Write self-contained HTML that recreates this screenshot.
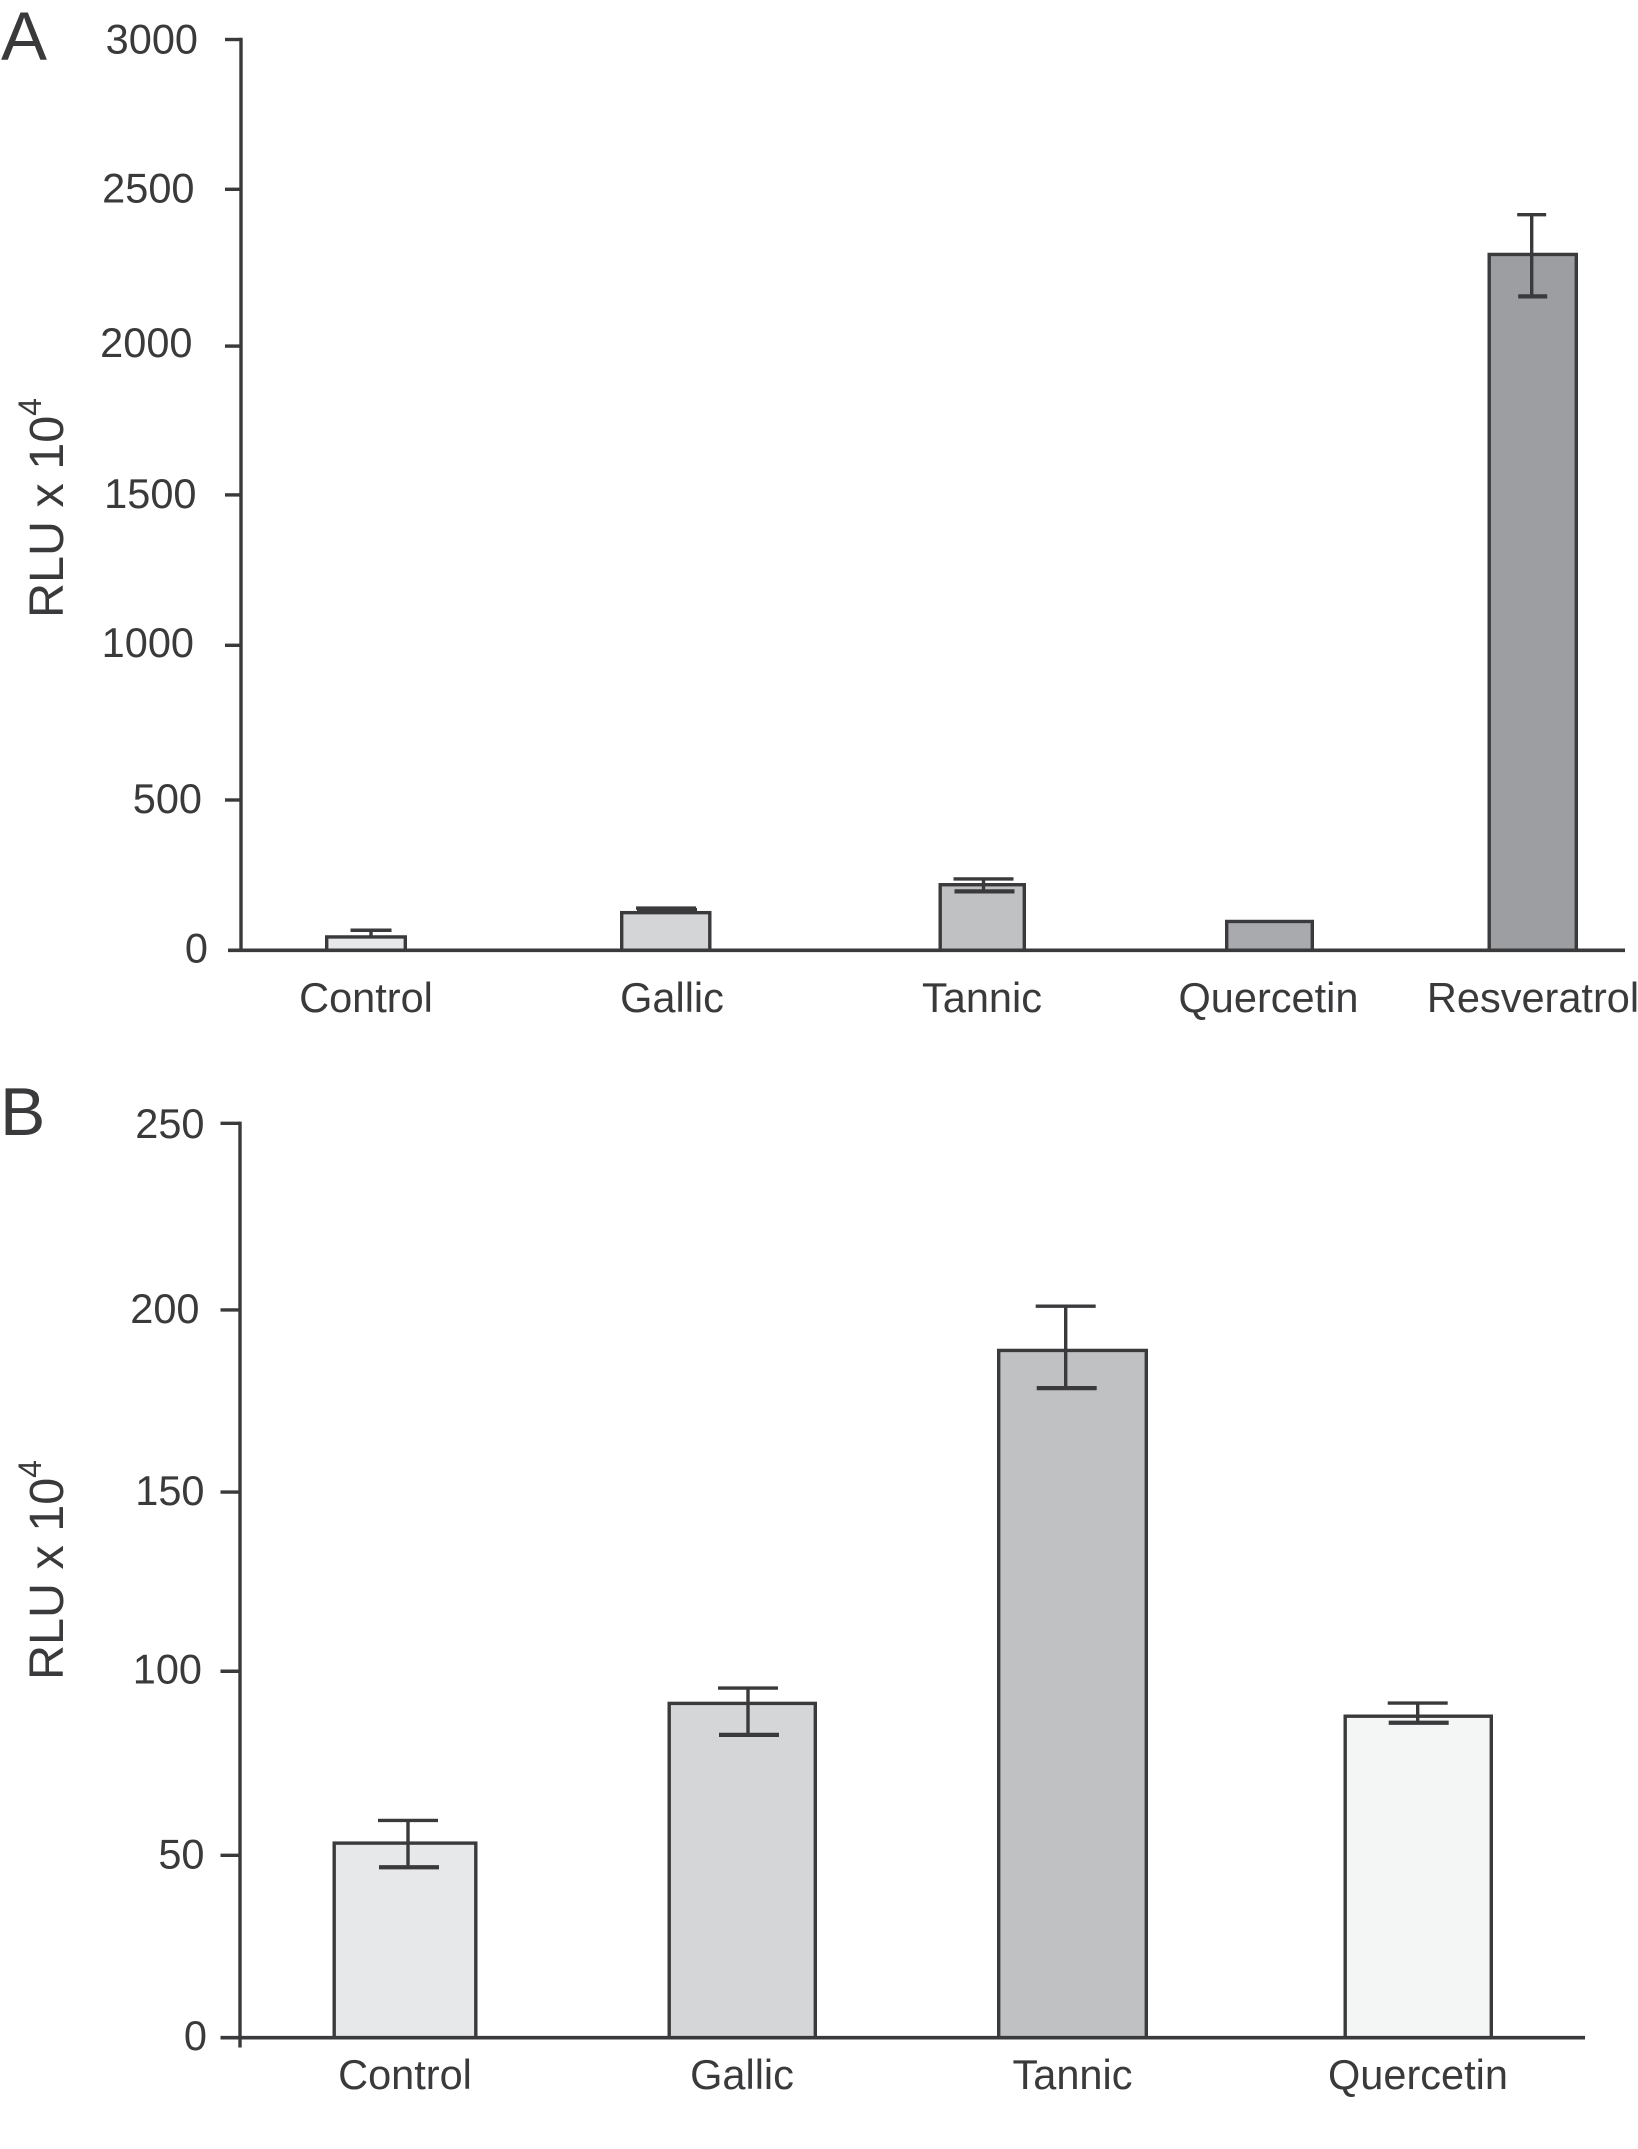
<!DOCTYPE html>
<html lang="en">
<head>
<meta charset="utf-8">
<title>RLU by compound</title>
<style>
html,body{margin:0;padding:0;background:#fff;}
svg{display:block;}
text{font-family:"Liberation Sans",Arial,sans-serif;fill:#3a3a3c;}
</style>
</head>
<body>
<svg id="figure" xmlns="http://www.w3.org/2000/svg" width="1638" height="2149" viewBox="0 0 1638 2149">
  <rect width="1638" height="2149" fill="#fff"/>
  <text x="1" y="60" font-size="69">A</text>
  <text x="0" y="1135" font-size="68">B</text>
  <text transform="translate(63,618) rotate(-90)" font-size="48.5">RLU x 10<tspan font-size="32" dy="-22">4</tspan></text>
  <text transform="translate(63,1680) rotate(-90)" font-size="48.5">RLU x 10<tspan font-size="32" dy="-22">4</tspan></text>
  <g id="chart-a"></g>
  <g id="chart-b"></g>
</svg>
<script>
const categoriesA = ['Control', 'Gallic', 'Tannic', 'Quercetin', 'Resveratrol'];
const valuesA = [44, 124, 216, 95, 2292];
const errHighA = [66, 139, 235, null, 2423];
const errLowA = [null, 133, 194, null, 2154];
const tickLabelsA = [0, 500, 1000, 1500, 2000, 2500, 3000];

const categoriesB = ['Control', 'Gallic', 'Tannic', 'Quercetin'];
const valuesB = [53.2, 91.4, 187.9, 87.9];
const errHighB = [59.4, 95.6, 200, 91.5];
const errLowB = [46.6, 82.8, 177.6, 86.1];
const tickLabelsB = [0, 50, 100, 150, 200, 250];

const INK = '#3a3a3c';
const SVGNS = 'http://www.w3.org/2000/svg';

function make(tag, parent) {
  const el = document.createElementNS(SVGNS, tag);
  parent.appendChild(el);
  return el;
}
function line(el, x1, y1, x2, y2, w) {
  el.setAttribute('x1', x1);
  el.setAttribute('y1', y1);
  el.setAttribute('x2', x2);
  el.setAttribute('y2', y2);
  el.setAttribute('stroke', INK);
  el.setAttribute('stroke-width', w);
}

/* Ordinal layouts: the published figure spaces its categories unevenly. */
function layoutA(i) {
  switch (i) {
    case 0: return {left: 325, right: 407, stem: 371, capWidth: 41, label: 366, fill: '#e7e8ea'};
    case 1: return {left: 620, right: 711.5, stem: 666, capWidth: 60, label: 672, fill: '#d4d5d7'};
    case 2: return {left: 938.5, right: 1026, stem: 983.5, capWidth: 60, label: 982, fill: '#c0c1c3'};
    case 3: return {left: 1225, right: 1314, stem: 1269.5, capWidth: 0, label: 1268.5, fill: '#a9aaad'};
    default: return {left: 1487.5, right: 1578, stem: 1531.7, capWidth: 29, label: 1533, fill: '#9d9ea1'};
  }
}
function layoutB(i) {
  switch (i) {
    case 0: return {left: 332.5, right: 477.5, stem: 408, capWidth: 60, label: 405, fill: '#e7e8ea'};
    case 1: return {left: 667.5, right: 817, stem: 748, capWidth: 60, label: 742, fill: '#d5d6d8'};
    case 2: return {left: 997, right: 1148, stem: 1065.7, capWidth: 60, label: 1072.5, fill: '#c0c1c3'};
    default: return {left: 1343.5, right: 1493, stem: 1417.7, capWidth: 60, label: 1418, fill: '#f4f6f5'};
  }
}

/* Hand-set tick placement in the original artwork (small drift from a linear axis). */
function tickStyleA(t) {
  switch (t) {
    case 3000: return {nudge: 0, right: 198, base: 13.8};
    case 2500: return {nudge: -2, right: 194.5, base: 13};
    case 2000: return {nudge: 3, right: 192.5, base: 11};
    case 1500: return {nudge: 0, right: 196.5, base: 13.3};
    case 1000: return {nudge: -1.4, right: 194, base: 11.7};
    case 500: return {nudge: 1.5, right: 202, base: 13};
    case 0: return {nudge: 0, right: 208, base: 12.4};
    default: return {nudge: 0, right: 196, base: 13};
  }
}
function tickStyleB(t) {
  switch (t) {
    case 250: return {nudge: 0, right: 204.5, base: 14.7};
    case 200: return {nudge: 3.8, right: 199.5, base: 13};
    case 150: return {nudge: 3, right: 204.5, base: 13};
    case 100: return {nudge: -0.7, right: 202, base: 12.5};
    case 50: return {nudge: 0.5, right: 204.5, base: 13};
    case 0: return {nudge: 0, right: 207, base: 12.4};
    default: return {nudge: 0, right: 203, base: 13};
  }
}

function drawChart(o) {
  const root = document.getElementById(o.id);
  const y = v => o.y0 - (v / o.yMax) * (o.y0 - o.yTop);

  // bars and error bars
  o.categories.forEach((cat, i) => {
    const L = o.layout(i);
    const key = cat.toLowerCase();

    const bar = make('rect', root);
    
    
    bar.setAttribute('x', L.left + 1.7);
    bar.setAttribute('y', y(o.values[i]));
    bar.setAttribute('width', L.right - L.left - 3.4);
    bar.setAttribute('height', Math.max(0, o.y0 - y(o.values[i])));
    bar.setAttribute('fill', L.fill);
    bar.setAttribute('stroke', INK);
    bar.setAttribute('stroke-width', 3.4);

    const hi = o.errHigh[i];
    const lo = o.errLow[i];
    if (hi !== null) {
      const stemEnd = lo !== null ? y(lo) : y(o.values[i]);
      const stem = make('line', root);
      
      
      line(stem, L.stem, y(hi), L.stem, stemEnd, 3.4);

      const capHi = make('line', root);
      
      
      line(capHi, L.stem - L.capWidth / 2, y(hi), L.stem + L.capWidth / 2, y(hi), 3.4);
    }
    if (lo !== null) {
      const capLo = make('line', root);
      
      
      line(capLo, L.stem - L.capWidth / 2 + 1, y(lo), L.stem + L.capWidth / 2 + 1, y(lo), 4.2);
    }

    const label = make('text', root);
    
    
    label.setAttribute('x', L.label);
    label.setAttribute('y', o.labelBaseline);
    label.setAttribute('font-size', 41.5);
    label.setAttribute('text-anchor', 'middle');
    label.textContent = cat;
  });

  // axes
  const yAxis = make('line', root);
  
  
  line(yAxis, o.axisX, o.yTop - 1.7, o.axisX, o.axisBottom, 3.4);

  const xAxis = make('line', root);
  
  
  line(xAxis, o.xStart, o.y0, o.xEnd, o.y0, 3.6);

  // ticks and tick labels
  o.ticks.forEach(t => {
    const S = o.tickStyle(t);
    const ty = y(t) + S.nudge;
    if (t !== 0) {
      const tick = make('line', root);
      
      
      line(tick, o.tickLeft, ty, o.axisX, ty, 3.4);
    }
    const text = make('text', root);
    
    
    text.setAttribute('x', S.right);
    text.setAttribute('y', ty + S.base);
    text.setAttribute('font-size', 41.5);
    text.setAttribute('text-anchor', 'end');
    text.textContent = t;
  });
}

drawChart({
  id: 'chart-a', categories: categoriesA, values: valuesA, errHigh: errHighA, errLow: errLowA,
  ticks: tickLabelsA, layout: layoutA, tickStyle: tickStyleA, yMax: 3000, yTop: 39.5, y0: 950.3,
  axisX: 241, axisBottom: 950.3, xStart: 228, xEnd: 1625, tickLeft: 225,
  labelBaseline: 1012
});
drawChart({
  id: 'chart-b', categories: categoriesB, values: valuesB, errHigh: errHighB, errLow: errLowB,
  ticks: tickLabelsB, layout: layoutB, tickStyle: tickStyleB, yMax: 250, yTop: 1123.3, y0: 2037.7,
  axisX: 240, axisBottom: 2047.5, xStart: 220.5, xEnd: 1585, tickLeft: 220.5,
  labelBaseline: 2089
});
</script>
</body>
</html>
